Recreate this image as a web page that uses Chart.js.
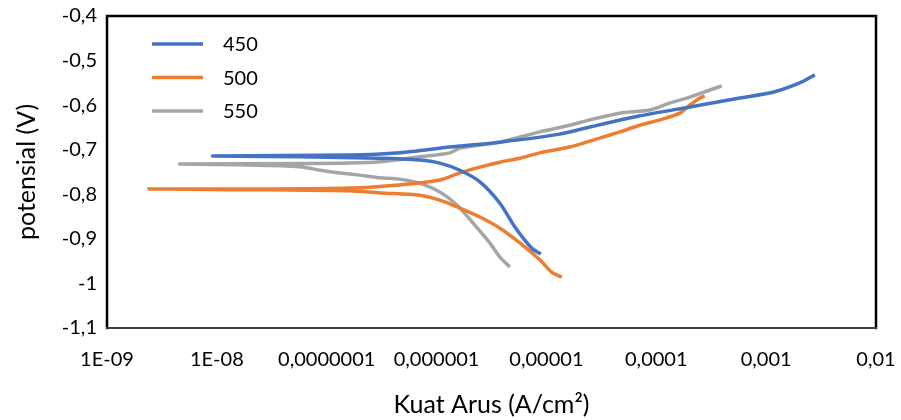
<!DOCTYPE html>
<html>
<head>
<meta charset="utf-8">
<script src="https://cdn.jsdelivr.net/npm/chart.js@4/dist/chart.umd.min.js"></script>
<style>
html,body{margin:0;padding:0;background:#fff;}
#wrap{width:901px;height:420px;}
</style>
</head>
<body>
<div id="wrap"><canvas id="c" width="901" height="420"></canvas></div>
<script>
// ---- data ----
const seriesNames = ['450', '500', '550'];
const seriesColors = ['#4472C4', '#ED7D31', '#A5A5A5'];

const x450 = [8.9e-6, 7.52e-6, 6.35e-6, 5.15e-6, 3.77e-6, 2.48e-6, 1.63e-6, 1.07e-6, 7.0e-7, 3.05e-7, 5.7e-8, 9.2e-9,
              1.63e-7, 4.6e-7, 1.32e-6, 3.77e-6, 1.32e-5, 2.48e-5, 7.1e-5, 2.02e-4, 5.75e-4, 1.15e-3, 2.02e-3, 2.77e-3];
const y450 = [-0.934, -0.923, -0.903, -0.873, -0.820, -0.772, -0.746, -0.730, -0.723, -0.719, -0.716, -0.714,
              -0.712, -0.707, -0.694, -0.683, -0.665, -0.649, -0.624, -0.604, -0.584, -0.571, -0.550, -0.532];

const x500 = [1.38e-5, 1.12e-5, 8.7e-6, 5.73e-6, 3.77e-6, 2.48e-6, 1.63e-6, 1.07e-6, 7.0e-7, 3.05e-7, 1.63e-7, 3e-8, 2.41e-9,
              3e-8, 1.63e-7, 4.6e-7, 1.07e-6, 1.63e-6, 2.48e-6, 3.77e-6, 5.73e-6, 8.7e-6, 1.63e-5, 3.06e-5, 4.66e-5, 7.1e-5, 1.08e-4, 1.64e-4, 2.02e-4, 2.49e-4, 2.76e-4];
const y500 = [-0.986, -0.975, -0.947, -0.909, -0.876, -0.851, -0.831, -0.813, -0.802, -0.797, -0.792, -0.790, -0.788,
              -0.788, -0.786, -0.779, -0.768, -0.752, -0.739, -0.728, -0.719, -0.707, -0.694, -0.674, -0.660, -0.645, -0.633, -0.618, -0.600, -0.584, -0.579];

const x550 = [4.65e-6, 3.77e-6, 3.05e-6, 2.14e-6, 1.53e-6, 1.07e-6, 7.0e-7, 4.6e-7, 3.05e-7, 2.0e-7, 1.32e-7, 8.7e-8, 5.7e-8, 1.62e-8, 4.6e-9,
              5.7e-8, 1.63e-7, 3.05e-7, 7.0e-7, 1.32e-6, 1.63e-6, 3.77e-6, 8.7e-6, 1.63e-5, 2.48e-5, 4.66e-5, 8.7e-5, 1.33e-4, 2.02e-4, 3.07e-4, 3.94e-4];
const y550 = [-0.963, -0.941, -0.909, -0.864, -0.824, -0.795, -0.775, -0.766, -0.763, -0.757, -0.752, -0.746, -0.738, -0.734, -0.732,
              -0.731, -0.730, -0.727, -0.716, -0.707, -0.696, -0.683, -0.660, -0.645, -0.633, -0.618, -0.611, -0.595, -0.582, -0.566, -0.557];

const xTickValues = [1e-9, 1e-8, 1e-7, 1e-6, 1e-5, 1e-4, 1e-3, 1e-2];
const xTickLabels = ['1E-09', '1E-08', '0,0000001', '0,000001', '0,00001', '0,0001', '0,001', '0,01'];
const yTickValues = [-1.1, -1.0, -0.9, -0.8, -0.7, -0.6, -0.5, -0.4];
const yTickLabels = ['-1,1', '-1', '-0,9', '-0,8', '-0,7', '-0,6', '-0,5', '-0,4'];

const xTitle = 'Kuat Arus (A/cm\u00B2)';
const yTitle = 'potensial (V)';

// ---- build ----
const FONT = 'Lato, "Open Sans", sans-serif';
const xs = [x450, x500, x550];
const ys = [y450, y500, y550];
const datasets = seriesNames.map((n, i) => ({
  label: n,
  data: xs[i].map((x, k) => ({x: x, y: ys[i][k]})),
  borderColor: seriesColors[i],
  backgroundColor: seriesColors[i],
  borderWidth: 3.5,
  pointRadius: 0,
  showLine: true,
  tension: 0.25,
  fill: false
}));

const framePlugin = {
  id: 'frame',
  afterDatasetsDraw(chart) {
    const a = chart.chartArea, ctx = chart.ctx;
    ctx.save();
    ctx.lineCap = 'square';
    ctx.strokeStyle = '#000';
    ctx.lineWidth = 2.5;
    ctx.beginPath();
    ctx.moveTo(a.left, a.bottom); ctx.lineTo(a.left, a.top); ctx.lineTo(a.right, a.top); ctx.lineTo(a.right, a.bottom);
    ctx.stroke();
    ctx.lineWidth = 2;
    ctx.strokeStyle = '#404040';
    ctx.beginPath();
    ctx.moveTo(a.left, a.bottom); ctx.lineTo(a.right, a.bottom);
    ctx.stroke();
    ctx.restore();
  }
};

const legendPlugin = {
  id: 'innerLegend',
  afterDraw(chart) {
    const a = chart.chartArea, ctx = chart.ctx;
    ctx.save();
    ctx.font = '20px ' + FONT;
    ctx.textBaseline = 'middle';
    chart.data.datasets.forEach((ds, i) => {
      const yy = a.top + 28 + i * 33.5;
      ctx.strokeStyle = ds.borderColor;
      ctx.lineWidth = 3.5;
      ctx.beginPath();
      ctx.moveTo(a.left + 45, yy); ctx.lineTo(a.left + 96, yy);
      ctx.stroke();
      ctx.fillStyle = '#000';
      ctx.fillText(ds.label, a.left + 116, yy + 1);
    });
    ctx.restore();
  }
};

new Chart(document.getElementById('c'), {
  type: 'scatter',
  data: {datasets: datasets},
  plugins: [framePlugin, legendPlugin],
  options: {
    responsive: false,
    animation: false,
    layout: {padding: 0},
    plugins: {legend: {display: false}, tooltip: {enabled: false}},
    scales: {
      x: {
        type: 'logarithmic',
        min: xTickValues[0],
        max: xTickValues[xTickValues.length - 1],
        afterBuildTicks: (s) => { s.ticks = xTickValues.map(v => ({value: v})); },
        afterFit: (s) => { s.height = 92; s.paddingLeft = 0; s.paddingRight = 25; },
        grid: {display: false, drawTicks: false},
        border: {display: false},
        ticks: {
          autoSkip: false, maxRotation: 0, padding: 20, color: '#000',
          font: {family: FONT, size: 20},
          callback: (v, i) => xTickLabels[i]
        },
        title: {display: true, text: xTitle, color: '#000', font: {family: FONT, size: 25}, padding: {top: 0, bottom: 0}}
      },
      y: {
        type: 'linear',
        min: yTickValues[0],
        max: yTickValues[yTickValues.length - 1],
        afterBuildTicks: (s) => { s.ticks = yTickValues.map(v => ({value: v})); },
        afterFit: (s) => { s.width = 107; s.paddingTop = 16; s.paddingBottom = 0; },
        grid: {display: false, drawTicks: false},
        border: {display: false},
        ticks: {
          padding: 10, color: '#000',
          font: {family: FONT, size: 20},
          callback: (v, i) => yTickLabels[i]
        },
        title: {display: true, text: yTitle, color: '#000', font: {family: FONT, size: 25}, padding: {top: 12, bottom: 0}}
      }
    }
  }
});
</script>
</body>
</html>
